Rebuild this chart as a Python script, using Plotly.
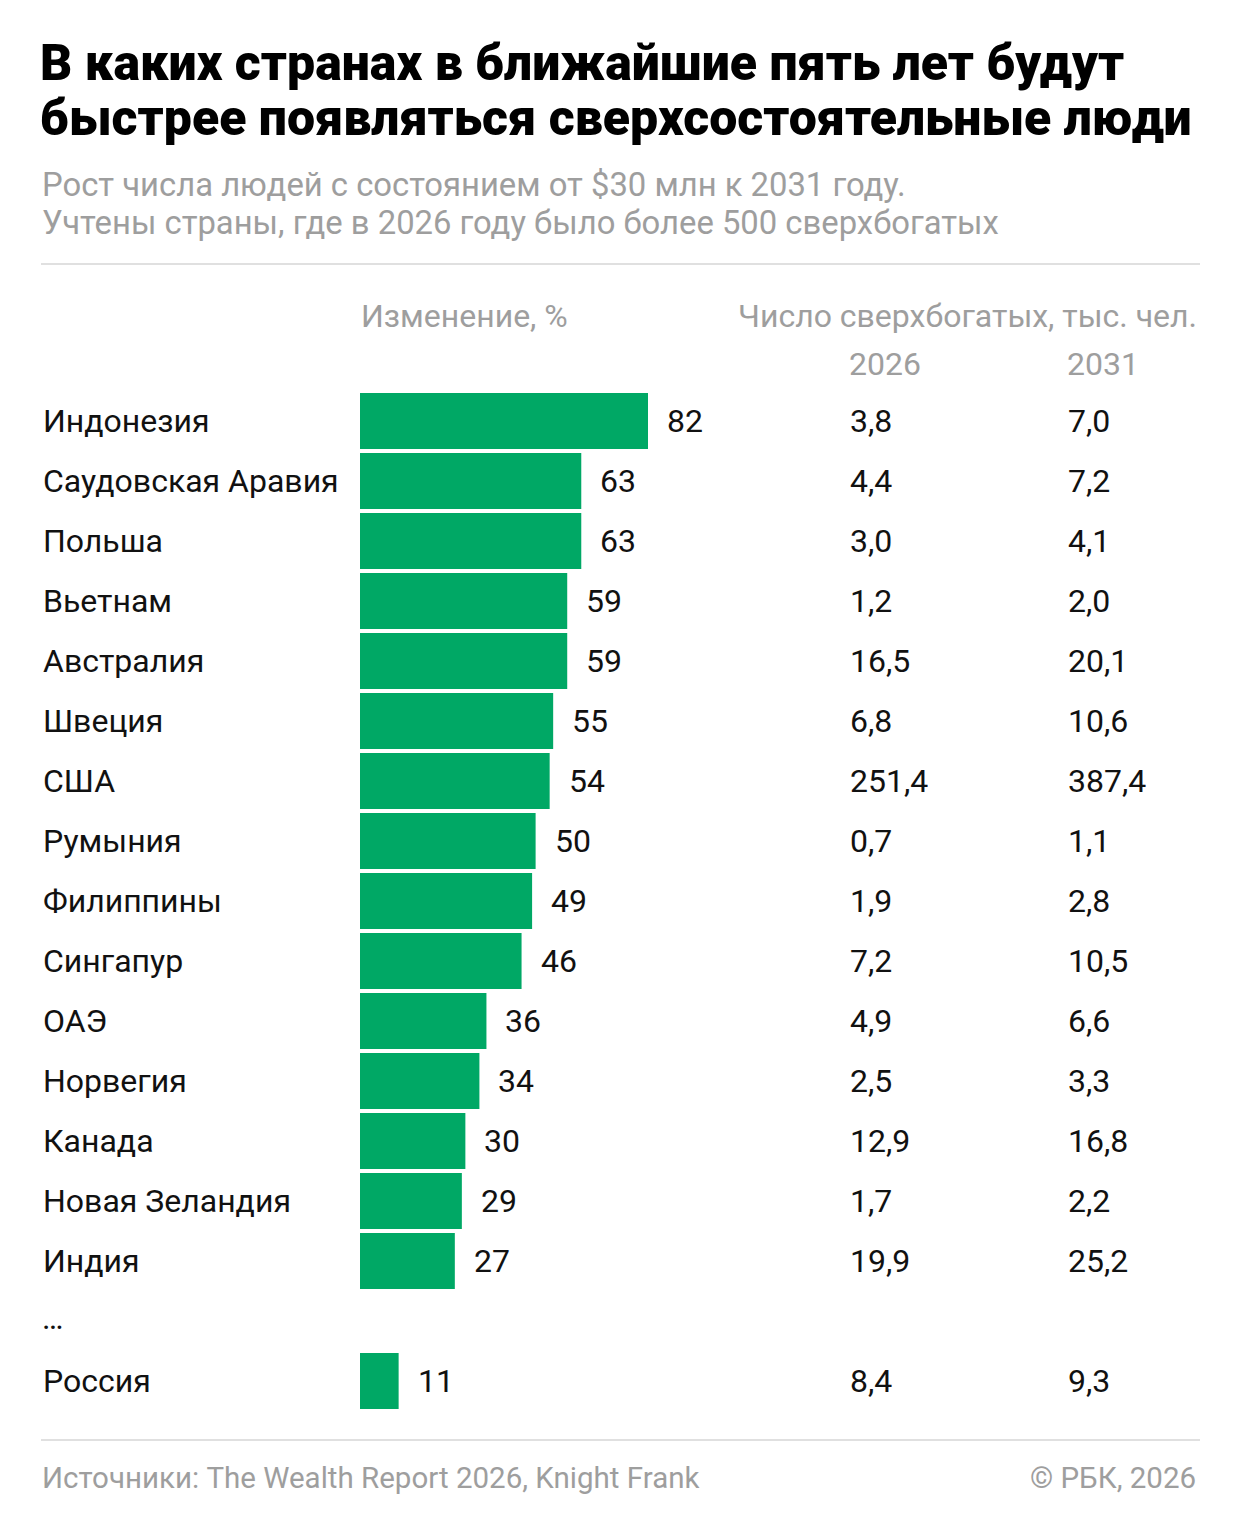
import plotly.graph_objects as go

countries = ["Индонезия", "Саудовская Аравия", "Польша", "Вьетнам", "Австралия", "Швеция",
             "США", "Румыния", "Филиппины", "Сингапур", "ОАЭ", "Норвегия", "Канада",
             "Новая Зеландия", "Индия", "Россия"]
change_pct = [82, 63, 63, 59, 59, 55, 54, 50, 49, 46, 36, 34, 30, 29, 27, 11]
rich_2026 = [3.8, 4.4, 3.0, 1.2, 16.5, 6.8, 251.4, 0.7, 1.9, 7.2, 4.9, 2.5, 12.9, 1.7, 19.9, 8.4]
rich_2031 = [7.0, 7.2, 4.1, 2.0, 20.1, 10.6, 387.4, 1.1, 2.8, 10.5, 6.6, 3.3, 16.8, 2.2, 25.2, 9.3]
rows = list(range(15)) + [16]

W, H = 1240, 1528
OFF = 8  # page body margin
GREEN = "#00a865"
GREY = "#9e9e9e"
FONT = "Roboto"
FS = 32

def fmt(v):
    return f"{v:.1f}".replace(".", ",")

fig = go.Figure()
fig.add_trace(go.Bar(
    x=change_pct, y=rows, orientation="h",
    marker=dict(color=GREEN, line=dict(width=0)),
    width=0.93, hoverinfo="skip",
))

px_per_unit = 288 / 82
bar0 = 360 - OFF
x0 = -bar0 / px_per_unit
x1 = (W - bar0) / px_per_unit
row_h = 60
row0 = 421 - OFF
y_top = -row0 / row_h
y_bot = (H - row0) / row_h

def px(x):
    return (x - OFF) / W

def py(y):
    return 1 - (y - OFF) / H

ann = []
for c, v, a, b, r in zip(countries, change_pct, rich_2026, rich_2031, rows):
    ann.append(dict(x=px(41), y=r, xref="paper", yref="y", text=c, showarrow=False,
                    xanchor="left", yanchor="middle", font=dict(size=FS, color="#111", family=FONT)))
    ann.append(dict(x=v, y=r, xref="x", yref="y", text=str(v), showarrow=False,
                    xanchor="left", yanchor="middle", xshift=17,
                    font=dict(size=FS, color="#111", family=FONT)))
    ann.append(dict(x=px(848), y=r, xref="paper", yref="y", text=fmt(a), showarrow=False,
                    xanchor="left", yanchor="middle", font=dict(size=FS, color="#111", family=FONT)))
    ann.append(dict(x=px(1066), y=r, xref="paper", yref="y", text=fmt(b), showarrow=False,
                    xanchor="left", yanchor="middle", font=dict(size=FS, color="#111", family=FONT)))

ann.append(dict(x=px(40), y=py(1318), xref="paper", yref="paper", text="…", showarrow=False,
                xanchor="left", yanchor="middle",
                font=dict(size=FS, color="#111", family=FONT)))

# headers
ann.append(dict(x=px(359), y=py(316), xref="paper", yref="paper", text="Изменение, %",
                showarrow=False, xanchor="left", yanchor="middle",
                font=dict(size=FS, color=GREY, family=FONT)))
ann.append(dict(x=px(1199), y=py(316), xref="paper", yref="paper", text="Число сверхбогатых, тыс. чел.",
                showarrow=False, xanchor="right", yanchor="middle",
                font=dict(size=FS, color=GREY, family=FONT)))
ann.append(dict(x=px(847), y=py(364), xref="paper", yref="paper", text="2026",
                showarrow=False, xanchor="left", yanchor="middle",
                font=dict(size=FS, color=GREY, family=FONT)))
ann.append(dict(x=px(1065), y=py(364), xref="paper", yref="paper", text="2031",
                showarrow=False, xanchor="left", yanchor="middle",
                font=dict(size=FS, color=GREY, family=FONT)))

# title
TFS = 50
ann.append(dict(x=px(38), y=py(63), xref="paper", yref="paper",
                text="В каких странах в ближайшие пять лет будут",
                showarrow=False, xanchor="left", yanchor="middle",
                font=dict(size=TFS, color="#000", family=FONT, weight=900)))
ann.append(dict(x=px(38), y=py(118), xref="paper", yref="paper",
                text="быстрее появляться сверхсостоятельные люди",
                showarrow=False, xanchor="left", yanchor="middle",
                font=dict(size=TFS, color="#000", family=FONT, weight=900)))
# subtitle
ann.append(dict(x=px(40), y=py(185), xref="paper", yref="paper",
                text="Рост числа людей с состоянием от $30 млн к 2031 году.",
                showarrow=False, xanchor="left", yanchor="middle",
                font=dict(size=32.8, color=GREY, family=FONT)))
ann.append(dict(x=px(40), y=py(223), xref="paper", yref="paper",
                text="Учтены страны, где в 2026 году было более 500 сверхбогатых",
                showarrow=False, xanchor="left", yanchor="middle",
                font=dict(size=32.8, color=GREY, family=FONT)))
# footer
ann.append(dict(x=px(40), y=py(1478), xref="paper", yref="paper",
                text="Источники: The Wealth Report 2026, Knight Frank",
                showarrow=False, xanchor="left", yanchor="middle",
                font=dict(size=29.5, color=GREY, family=FONT)))
ann.append(dict(x=px(1198), y=py(1478), xref="paper", yref="paper",
                text="© РБК, 2026",
                showarrow=False, xanchor="right", yanchor="middle",
                font=dict(size=29.5, color=GREY, family=FONT)))

shapes = [
    dict(type="line", xref="paper", yref="paper", x0=px(41), x1=px(1200), y0=py(264), y1=py(264),
         line=dict(color="#e0e0e0", width=2)),
    dict(type="line", xref="paper", yref="paper", x0=px(41), x1=px(1200), y0=py(1440), y1=py(1440),
         line=dict(color="#e0e0e0", width=2)),
]

fig.update_layout(
    width=W, height=H,
    margin=dict(l=0, r=0, t=0, b=0),
    paper_bgcolor="white", plot_bgcolor="white",
    showlegend=False,
    xaxis=dict(range=[x0, x1], visible=False, fixedrange=True),
    yaxis=dict(range=[y_bot, y_top], visible=False, fixedrange=True),
    annotations=ann, shapes=shapes,
    font=dict(family=FONT),
)
fig.write_html("out.html", config={"displayModeBar": False})
